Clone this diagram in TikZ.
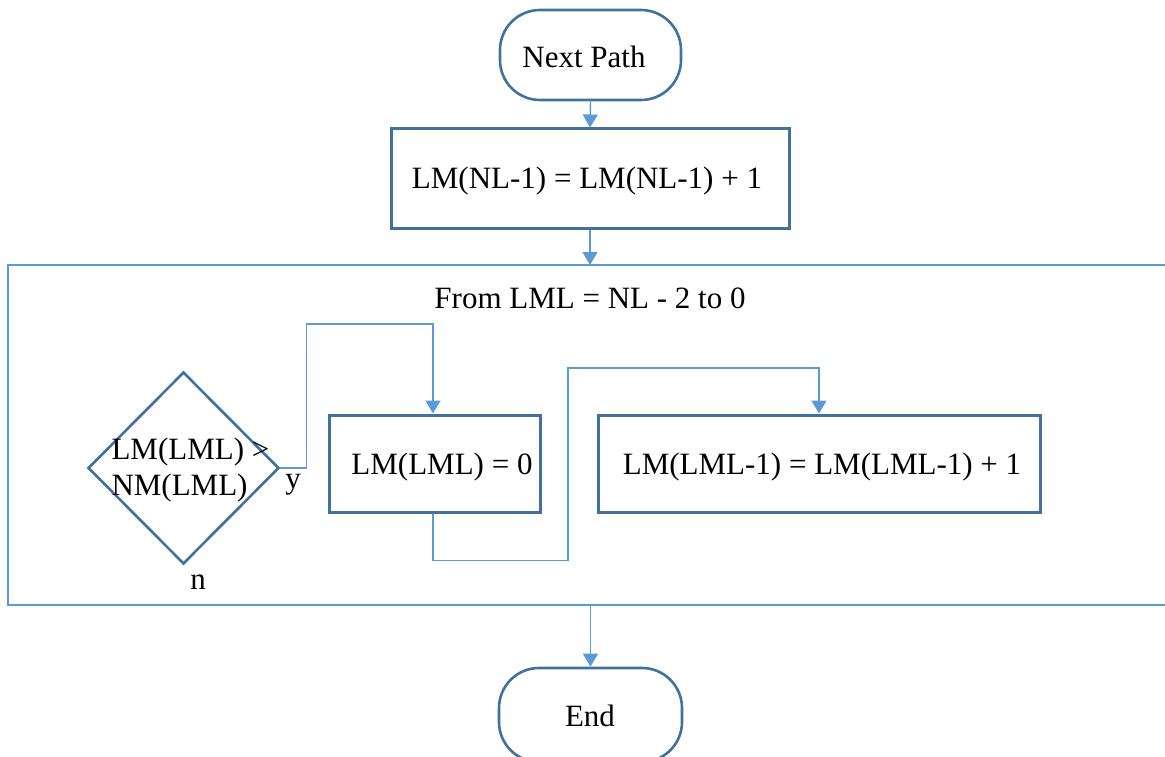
\documentclass[tikz,border=0pt]{standalone}
\usepackage{fontspec}
\setmainfont{Liberation Serif}
\usetikzlibrary{arrows.meta,shapes.geometric}
\definecolor{boxline}{HTML}{41719C}
\definecolor{flowline}{HTML}{5B9BD5}
\tikzset{
  x=1pt, y=-1pt,
  txt/.style={font=\fontsize{31}{36}\selectfont, text=black},
  terminal/.style={txt, draw=boxline, line width=2.6pt, rounded corners=40pt,
    minimum width=181pt, minimum height=90pt, inner sep=0pt},
  process/.style={txt, draw=boxline, line width=3pt, inner sep=0pt},
  decision/.style={txt, draw=boxline, line width=2.6pt, diamond, aspect=1,
    minimum width=191pt, minimum height=192pt, inner sep=0pt},
  flow/.style={draw=flowline, line width=1.4pt},
  arr/.style={flow, -{Triangle[width=15pt,length=13pt]}},
}
\begin{document}
\begin{tikzpicture}
\useasboundingbox (0,0) rectangle (1165,757);
\clip (0,0) rectangle (1165,757);

% terminals and process boxes
\node[terminal] (start) at (590.5,55) {};
\node[txt] (starttxt) at (584,57) {Next Path};
\node[process, minimum width=398pt, minimum height=99pt] (inc) at (590,178.5) {};
\node[txt] (inctxt) at (587,181) {LM(NL-1) = LM(NL-1) + 1};
\node[terminal, minimum width=183pt, minimum height=94pt] (stop) at (590.5,715) {};
\node[txt] (stoptxt) at (590,716) {End};

% loop frame (open on the right)
\coordinate (loopTR) at (1170,265);
\coordinate (loopTL) at (8,265);
\coordinate (loopBL) at (8,605);
\coordinate (loopBR) at (1170,605);
\draw[flow] (loopTR) -- (loopTL) -- (loopBL) -- (loopBR);
\node[txt] (title) at (590,298) {From LML = NL - 2 to 0};

% loop body
\node[decision] (test) at (183.5,468) {};
\node[txt, align=left, anchor=west] (testtxt) at (108,470) {LM(LML) >\\[0pt]NM(LML)};
\node[process, minimum width=211pt, minimum height=97pt] (reset) at (434.5,463.5) {};
\node[txt] (resettxt) at (442,467) {LM(LML) = 0};
\node[process, minimum width=442pt, minimum height=97pt] (carry) at (819,463.5) {};
\node[txt] (carrytxt) at (822,467) {LM(LML-1) = LM(LML-1) + 1};
\node[txt] (ylab) at (293,485) {y};
\node[txt] (nlab) at (198,582) {n};

% connectors
\draw[arr] (start.south) -- (inc.north);
\draw[arr] (inc.south) -- (inc.south |- loopTL);
\draw[arr] (test.east) -- ++(26,0) |- (433,324) -- (433,0 |- reset.north);
\draw[arr] (433,0 |- reset.south) -- ++(0,47) -| (568,368) -| (carry.north);
\draw[arr] (loopBL -| stop.north) -- (stop.north);
\end{tikzpicture}
\end{document}
